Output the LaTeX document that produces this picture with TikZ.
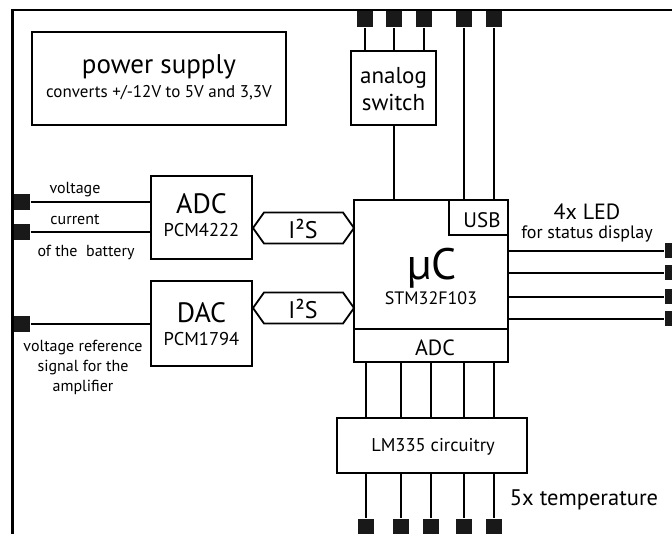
\documentclass[tikz,border=0pt]{standalone}
\usepackage{fontspec}
\setmainfont{PT Sans}
\begin{document}
\begin{tikzpicture}[x=1pt,y=-1pt,
  line width=2pt,
  box/.style={draw, line width=2.2pt, inner sep=0pt, minimum width=#1},
  pin/.style={fill=black!90, inner sep=0pt, minimum size=16pt},
  lbl/.style={inner sep=0pt, align=center},
  wire/.style={line width=2pt}]
\useasboundingbox (0,0) rectangle (672,534);
% frame
\draw[line width=2.2pt] (12.5,536) -- (12.5,10) -- (673,10);

% boxes
\node[box=254pt, minimum height=93pt] (ps) at (159,78.5) {};
\node[box=85pt, minimum height=74pt] (asw) at (393.5,88) {};
\node[box=101pt, minimum height=83pt] (adc) at (201.5,217.5) {};
\node[box=101pt, minimum height=85pt] (dac) at (201.5,323.5) {};
\node[box=154pt, minimum height=162pt] (uc) at (431,281) {};
\node[box=154pt, minimum height=33pt] (ucadc) at (431,345.5) {};
\node[box=59pt, minimum height=35pt] (usb) at (478.5,217.5) {};
\node[box=190pt, minimum height=55pt] (lm) at (432,445.5) {};

% texts
\node[lbl, font=\fontsize{27}{29}\selectfont] (pst1) at (159,67) {power supply};
\node[lbl, font=\fontsize{17}{19}\selectfont] (pst2) at (159,93) {converts +/-12V to 5V and 3,3V};
\node[lbl, font=\fontsize{23}{27}\selectfont] (aswt) at (393.5,89) {analog\\switch};
\node[lbl, font=\fontsize{28}{29}\selectfont] (adct1) at (201.5,204) {ADC};
\node[lbl, font=\fontsize{18.5}{20}\selectfont] (adct2) at (201.5,230) {PCM4222};
\node[lbl, font=\fontsize{28}{29}\selectfont] (dact1) at (201.5,313) {DAC};
\node[lbl, font=\fontsize{18.5}{20}\selectfont] (dact2) at (201.5,339) {PCM1794};
\node[lbl, font=\fontsize{44}{48}\selectfont] (uct1) at (432,268) {µC};
\node[lbl, font=\fontsize{18}{20}\selectfont] (uct2) at (431,298) {STM32F103};
\node[lbl, font=\fontsize{22}{24}\selectfont] (ucadct) at (435,348) {ADC};
\node[lbl, font=\fontsize{21}{23}\selectfont] (usbt) at (482,220) {USB};
\node[lbl, font=\fontsize{18.5}{23}\selectfont] (lmt) at (433,447) {LM335 circuitry};
\node[lbl, font=\fontsize{22}{23}\selectfont] (ledt1) at (587,212) {4x LED};
\node[lbl, font=\fontsize{18}{18}\selectfont] (ledt2) at (587,234) {for status display};
\node[lbl, font=\fontsize{22.5}{23}\selectfont] (tempt) at (584,500) {5x temperature};
\node[lbl, font=\fontsize{16}{17}\selectfont] (vt) at (75,190) {voltage};
\node[lbl, font=\fontsize{16}{17}\selectfont] (ct) at (75,220) {current};
\node[lbl, font=\fontsize{16}{17}\selectfont] (bt) at (86,252) {of the\ \ battery};
\node[lbl, font=\fontsize{16}{20}\selectfont] (vrt) at (83,367) {voltage reference\\signal for the\\amplifier};

% I2S hexagons
\draw[line width=1.8pt] (253,228) -- (264,212.5) -- (343,212.5) -- (354,228) -- (343,243.5) -- (264,243.5) -- cycle;
\draw[line width=1.8pt] (253,308) -- (264,292.5) -- (343,292.5) -- (354,308) -- (343,323.5) -- (264,323.5) -- cycle;
\node[lbl, font=\fontsize{24}{26}\selectfont] (i2s1) at (303,229) {I²S};
\node[lbl, font=\fontsize{24}{26}\selectfont] (i2s2) at (303,309) {I²S};

% top pins
\foreach \n/\x in {1/365,2/394,3/424,4/464,5/494}
  \node[pin] (tp\n) at (\x,19.5) {};
\draw[wire] (tp1.south) -- (tp1 |- asw.north);
\draw[wire] (tp2.south) -- (tp2 |- asw.north);
\draw[wire] (tp3.south) -- (tp3 |- asw.north);
\draw[wire] (tp4.south) -- (tp4 |- usb.north);
\draw[wire] (tp5.south) -- (tp5 |- usb.north);
\draw[wire] (asw.south) -- (asw |- uc.north);

% left pins
\node[pin] (lp1) at (21.5,202) {};
\node[pin] (lp2) at (21.5,232) {};
\node[pin] (lp3) at (21.5,324) {};
\draw[wire] (lp1.east) -- (adc.west |- lp1);
\draw[wire] (lp2.east) -- (adc.west |- lp2);
\draw[wire] (lp3.east) -- (dac.west |- lp3);

% right pins
\foreach \n/\y in {1/251,2/273,3/297,4/319}{
  \node[pin, minimum height=15pt] (rp\n) at (673,\y) {};
  \draw[wire] (uc.east |- rp\n) -- (rp\n.west);
}

% bottom pins
\foreach \n/\x in {1/366,2/401,3/431,4/464,5/494}{
  \node[pin] (bp\n) at (\x,527) {};
  \draw[wire] (ucadc.south -| bp\n) -- (lm.north -| bp\n);
  \draw[wire] (lm.south -| bp\n) -- (bp\n.north);
}
\end{tikzpicture}
\end{document}
